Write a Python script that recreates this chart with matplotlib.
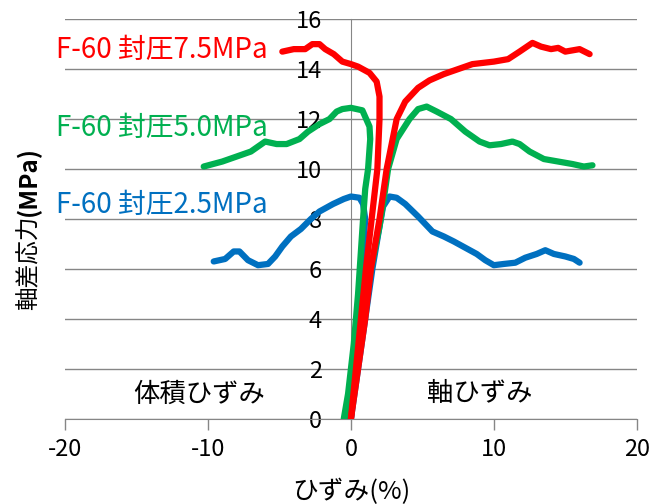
import matplotlib
matplotlib.use("Agg")
import matplotlib.pyplot as plt

plt.rcParams['font.family'] = ['Noto Sans CJK JP', 'DejaVu Sans']
plt.rcParams['axes.unicode_minus'] = False

# data: (strain %, deviator stress MPa)
# volumetric branch goes left, axial branch goes right
red_vol_x = [0.0, 0.35, 0.7, 1.05, 1.45, 1.85, 2.0, 2.0, 1.8, 1.3, 0.5, 0.0, -0.6, -1.2, -1.8, -2.2, -2.7, -3.2, -4.0, -4.8]
red_vol_y = [0.0, 2.0, 4.0, 6.0, 8.0, 10.0, 12.0, 12.9, 13.5, 13.85, 14.1, 14.2, 14.3, 14.6, 14.8, 15.0, 15.0, 14.8, 14.8, 14.7]
red_ax_x = [0.0, 0.5, 1.0, 1.4, 2.0, 2.5, 3.2, 3.8, 4.7, 5.5, 6.5, 7.5, 8.5, 10.0, 11.0, 11.8, 12.7, 13.3, 14.0, 14.5, 15.0, 16.0, 16.7]
red_ax_y = [0.0, 2.0, 4.0, 6.0, 8.0, 10.0, 12.0, 12.7, 13.25, 13.55, 13.8, 14.0, 14.2, 14.3, 14.4, 14.7, 15.05, 14.9, 14.8, 14.85, 14.7, 14.8, 14.6]

green_vol_x = [-0.5, -0.2, 0.2, 0.5, 0.85, 1.0, 1.2, 1.35, 1.3, 0.8, 0.0, -0.6, -1.0, -1.5, -2.2, -3.0, -3.6, -4.5, -5.2, -6.0, -7.0, -8.0, -9.0, -10.3]
green_vol_y = [0.0, 1.0, 3.0, 5.0, 8.0, 9.2, 10.0, 11.2, 11.7, 12.35, 12.45, 12.4, 12.3, 12.0, 11.8, 11.5, 11.2, 11.0, 11.0, 11.1, 10.7, 10.5, 10.3, 10.1]
green_ax_x = [-0.3, 0.3, 0.9, 1.4, 2.0, 2.3, 2.6, 3.2, 4.1, 4.7, 5.3, 6.0, 7.0, 8.0, 9.0, 9.7, 10.5, 11.3, 11.8, 12.5, 13.5, 14.5, 15.5, 16.3, 16.9]
green_ax_y = [0.0, 2.0, 4.0, 6.0, 7.7, 8.8, 10.0, 11.2, 12.0, 12.4, 12.5, 12.3, 12.0, 11.5, 11.1, 10.95, 11.0, 11.1, 11.0, 10.7, 10.4, 10.3, 10.2, 10.1, 10.15]

blue_vol_x = [0.0, 0.25, 0.5, 0.75, 1.0, 0.85, 0.6, 0.0, -0.5, -1.25, -2.2, -2.8, -3.5, -4.2, -4.8, -5.3, -5.8, -6.5, -7.2, -7.8, -8.2, -8.8, -9.6]
blue_vol_y = [0.0, 2.0, 4.0, 6.0, 8.0, 8.6, 8.85, 8.9, 8.8, 8.6, 8.3, 8.0, 7.6, 7.3, 6.9, 6.5, 6.2, 6.15, 6.35, 6.7, 6.7, 6.4, 6.3]
blue_ax_x = [0.0, 0.5, 1.0, 1.5, 2.0, 2.25, 2.7, 3.2, 3.8, 4.7, 5.7, 6.5, 7.2, 8.0, 8.8, 9.4, 10.0, 10.7, 11.5, 12.2, 13.0, 13.6, 14.2, 15.0, 15.6, 16.0]
blue_ax_y = [0.0, 2.0, 4.0, 6.0, 7.7, 8.5, 8.9, 8.85, 8.6, 8.1, 7.5, 7.3, 7.1, 6.85, 6.6, 6.35, 6.15, 6.2, 6.25, 6.45, 6.6, 6.75, 6.6, 6.5, 6.4, 6.25]

labels = ["F-60 封圧2.5MPa", "F-60 封圧5.0MPa", "F-60 封圧7.5MPa"]
colors = ["#0070C0", "#00B050", "#FF0000"]

fig = plt.figure(figsize=(6.64, 5.04), dpi=100)
ax = fig.add_axes([0.098, 0.169, 0.861, 0.793])

series = [
    (blue_vol_x, blue_vol_y, blue_ax_x, blue_ax_y),
    (green_vol_x, green_vol_y, green_ax_x, green_ax_y),
    (red_vol_x, red_vol_y, red_ax_x, red_ax_y),
]
for (vx, vy, axx, axy), c in zip(series, colors):
    ax.plot(vx, vy, color=c, lw=4.5, solid_joinstyle='round', solid_capstyle='round', zorder=3)
    ax.plot(axx, axy, color=c, lw=4.5, solid_joinstyle='round', solid_capstyle='round', zorder=3)

ax.set_xlim(-20, 20)
ax.set_ylim(0, 16)
ax.set_xticks([-20, -10, 0, 10, 20])
ax.set_yticks(range(0, 17, 2))

grey = "#868686"
ax.grid(axis='y', color=grey, lw=1)
ax.set_axisbelow(True)
for s in ['top', 'right']:
    ax.spines[s].set_visible(False)
ax.spines['left'].set_position(('data', 0))
ax.spines['left'].set_color(grey)
ax.spines['bottom'].set_color(grey)
ax.tick_params(axis='y', length=0, pad=21, labelsize=17)
ax.tick_params(axis='x', length=8, color=grey, width=1, pad=6, labelsize=17)

# series labels on the left
label_y = [8.55, 11.65, 14.75]
for t, c, yy in zip(labels, colors, label_y):
    ax.text(-20.6, yy, t, color=c, fontsize=20, ha='left', va='center')

ax.text(-10.6, 1.0, "体積ひずみ", fontsize=19, ha='center', va='center')
ax.text(9.0, 1.0, "軸ひずみ", fontsize=19, ha='center', va='center')

# y label: kanji part plus bold unit
fig.text(0.043, 0.478, "軸差応力", rotation=90, fontsize=17, ha='center', va='center')
fig.text(0.043, 0.64, "(MPa)", rotation=90, fontsize=17.5, fontweight='bold', ha='center', va='center')
fig.text(0.529, 0.024, "ひずみ(%)", fontsize=18.5, ha='center', va='center')

fig.savefig("out.png", dpi=100)
